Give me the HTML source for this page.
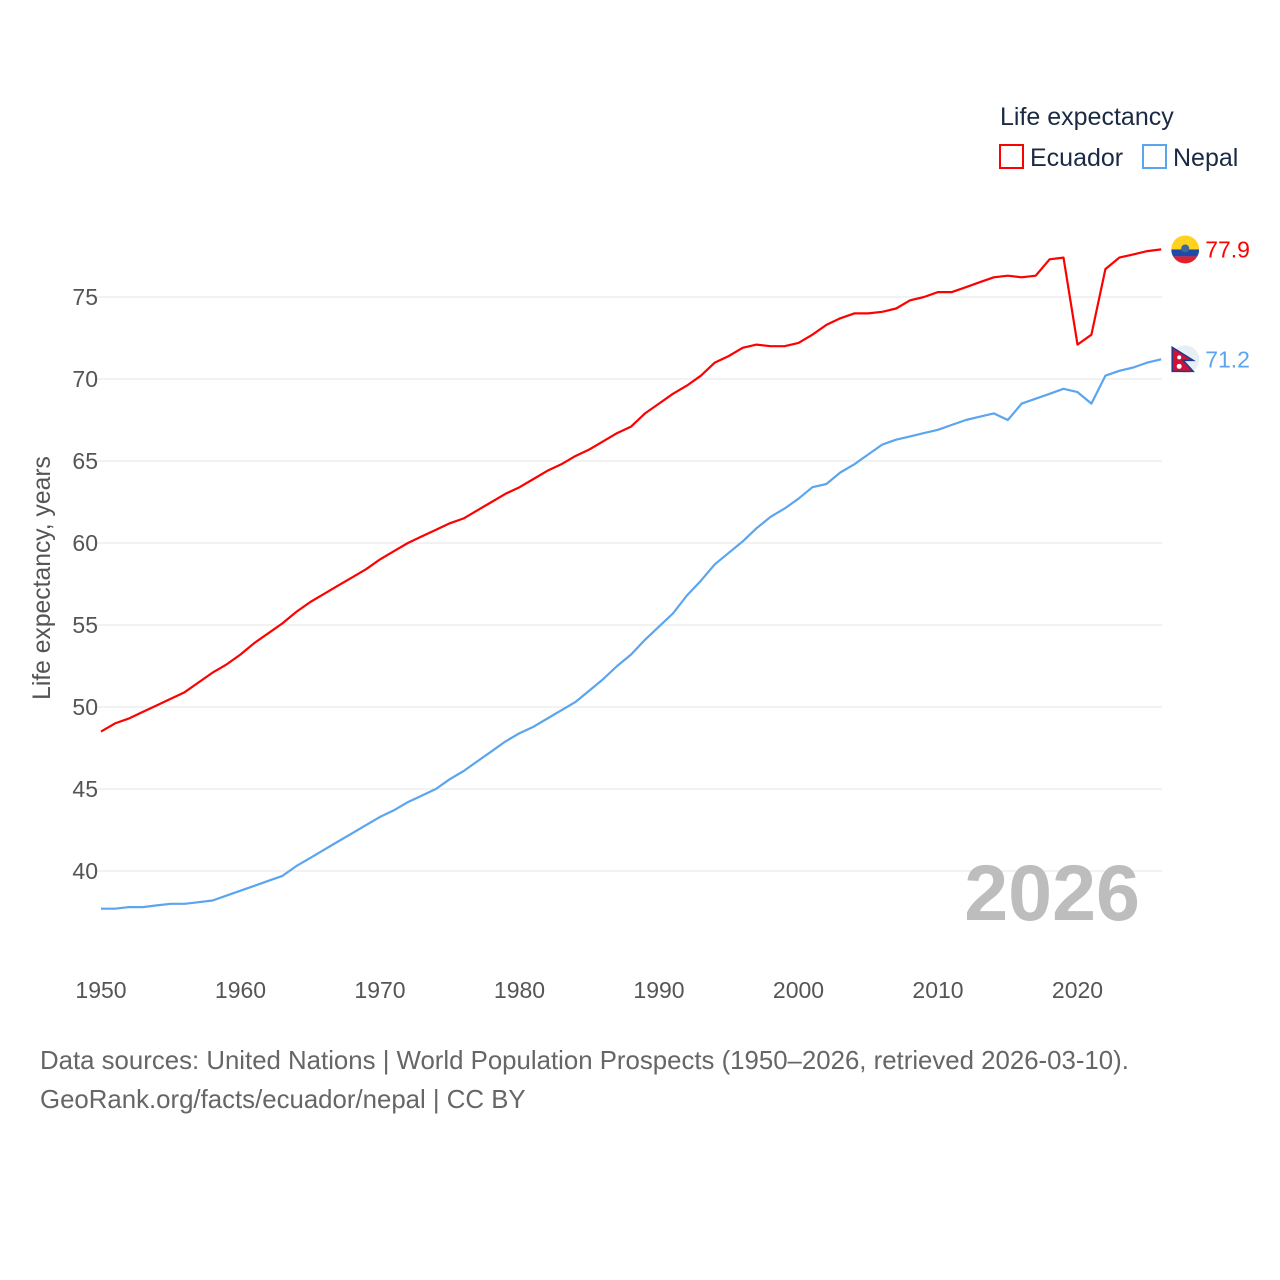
<!DOCTYPE html>
<html><head><meta charset="utf-8">
<style>
html,body{margin:0;padding:0;background:#fff;}
svg{display:block;font-family:"Liberation Sans",sans-serif;}
</style></head>
<body>
<svg id="chart" width="1280" height="1280" viewBox="0 0 1280 1280">
  <g id="grid"></g>
  <g id="yticks"></g>
  <g id="xticks"></g>
  <text x="50" y="578" transform="rotate(-90 50 578)" text-anchor="middle" font-size="24.7" fill="#555">Life expectancy, years</text>
  <text x="1140" y="920" text-anchor="end" font-size="79" font-weight="bold" fill="#bdbdbd">2026</text>
  <g id="series"></g>
  <g>
    <text x="1000" y="125" font-size="25" fill="#1a2a44">Life expectancy</text>
    <g>
      <rect x="1000" y="145" width="23" height="23" fill="#fff" stroke="#ff0000" stroke-width="2"/>
      <text x="1030" y="166" font-size="25" fill="#1a2a44">Ecuador</text>
    </g>
    <g>
      <rect x="1143" y="145" width="23" height="23" fill="#fff" stroke="#5aa5ee" stroke-width="2"/>
      <text x="1173" y="166" font-size="25" fill="#1a2a44">Nepal</text>
    </g>
  </g>
  <text x="40" y="1069" font-size="25.8" fill="#666">Data sources: United Nations | World Population Prospects (1950–2026, retrieved 2026-03-10).</text>
  <text x="40" y="1108" font-size="25.8" fill="#666">GeoRank.org/facts/ecuador/nepal | CC BY</text>
</svg>
<script>
const years = [];
for (let y = 1950; y <= 2026; y++) years.push(y);
const ecuador = [48.5,49.0,49.3,49.7,50.1,50.5,50.9,51.5,52.1,52.6,
53.2,53.9,54.5,55.1,55.8,56.4,56.9,57.4,57.9,58.4,
59.0,59.5,60.0,60.4,60.8,61.2,61.5,62.0,62.5,63.0,
63.4,63.9,64.4,64.8,65.3,65.7,66.2,66.7,67.1,67.9,
68.5,69.1,69.6,70.2,71.0,71.4,71.9,72.1,72.0,72.0,
72.2,72.7,73.3,73.7,74.0,74.0,74.1,74.3,74.8,75.0,
75.3,75.3,75.6,75.9,76.2,76.3,76.2,76.3,77.3,77.4,
72.1,72.7,76.7,77.4,77.6,77.8,77.9];
const nepal = [37.7,37.7,37.8,37.8,37.9,38.0,38.0,38.1,38.2,38.5,
38.8,39.1,39.4,39.7,40.3,40.8,41.3,41.8,42.3,42.8,
43.3,43.7,44.2,44.6,45.0,45.6,46.1,46.7,47.3,47.9,
48.4,48.8,49.3,49.8,50.3,51.0,51.7,52.5,53.2,54.1,
54.9,55.7,56.8,57.7,58.7,59.4,60.1,60.9,61.6,62.1,
62.7,63.4,63.6,64.3,64.8,65.4,66.0,66.3,66.5,66.7,
66.9,67.2,67.5,67.7,67.9,67.5,68.5,68.8,69.1,69.4,
69.2,68.5,70.2,70.5,70.7,71.0,71.2];
const yTicks = [40,45,50,55,60,65,70,75];
const xTicks = [1950,1960,1970,1980,1990,2000,2010,2020];

const NS = "http://www.w3.org/2000/svg";
const X = yr => 101 + (yr - 1950) * 13.95;
const Y = v => 297 + (75 - v) * 16.4;
function mk(tag, attrs, parent) {
  const e = document.createElementNS(NS, tag);
  for (const k in attrs) e.setAttribute(k, attrs[k]);
  parent.appendChild(e);
  return e;
}
const grid = document.getElementById('grid');
const yt = document.getElementById('yticks');
yTicks.forEach(v => {
  const l = mk('line', {x1: 95, x2: 1162, y1: Y(v), y2: Y(v), stroke: '#e6e6e6', 'stroke-width': 1}, grid);
  
  
  const t = mk('text', {x: 98, y: Y(v) + 8, 'text-anchor': 'end', 'font-size': 23, fill: '#555'}, yt);
  t.textContent = v;
  
  
});
const xt = document.getElementById('xticks');
xTicks.forEach(yr => {
  const t = mk('text', {x: X(yr), y: 998, 'text-anchor': 'middle', 'font-size': 23, fill: '#555'}, xt);
  t.textContent = yr;
  
  
});
const sg = document.getElementById('series');
function line(vals, color, name) {
  const d = vals.map((v, i) => (i ? 'L' : 'M') + X(years[i]).toFixed(1) + ' ' + Y(v).toFixed(1)).join(' ');
  const p = mk('path', {d: d, fill: 'none', stroke: color, 'stroke-width': 2.2, 'stroke-linejoin': 'round'}, sg);
  
  
  const last = vals[vals.length - 1];
  const ly = Y(last);
  const lx = X(years[years.length - 1]);
  const t = mk('text', {x: lx + 44, y: ly + 8, 'font-size': 23, fill: color}, sg);
  t.textContent = last.toFixed(1);
  
  
  return {lx: lx + 24, ly: ly};
}
const e = line(ecuador, '#ff0000', 'ecuador');
const n = line(nepal, '#5aa5ee', 'nepal');
const fe = mk('g', {}, sg);


const cp = mk('clipPath', {id: 'ce'}, fe);
mk('circle', {cx: e.lx, cy: e.ly, r: 14}, cp);
const gE = mk('g', {'clip-path': 'url(#ce)'}, fe);
mk('rect', {x: e.lx - 14, y: e.ly - 14, width: 28, height: 14, fill: '#ffd21f'}, gE);
mk('rect', {x: e.lx - 14, y: e.ly, width: 28, height: 7, fill: '#1f4aa8'}, gE);
mk('rect', {x: e.lx - 14, y: e.ly + 7, width: 28, height: 7, fill: '#e0202a'}, gE);
mk('circle', {cx: e.lx, cy: e.ly - 1, r: 4, fill: '#3a6a9a'}, gE);
const fn = mk('g', {}, sg);


mk('circle', {cx: n.lx, cy: n.ly, r: 14, fill: '#e8eef5'}, fn);
mk('path', {d: `M${n.lx-13} ${n.ly-12} L${n.lx+8} ${n.ly+1} L${n.lx-2} ${n.ly+1} L${n.lx+8} ${n.ly+12} L${n.lx-13} ${n.ly+12} Z`, fill: '#d21034', stroke: '#1f3a8a', 'stroke-width': 1.5}, fn);
mk('circle', {cx: n.lx - 6, cy: n.ly - 2, r: 2, fill: '#fff'}, fn);
mk('circle', {cx: n.lx - 6, cy: n.ly + 7, r: 2.5, fill: '#fff'}, fn);
</script>
</body></html>
